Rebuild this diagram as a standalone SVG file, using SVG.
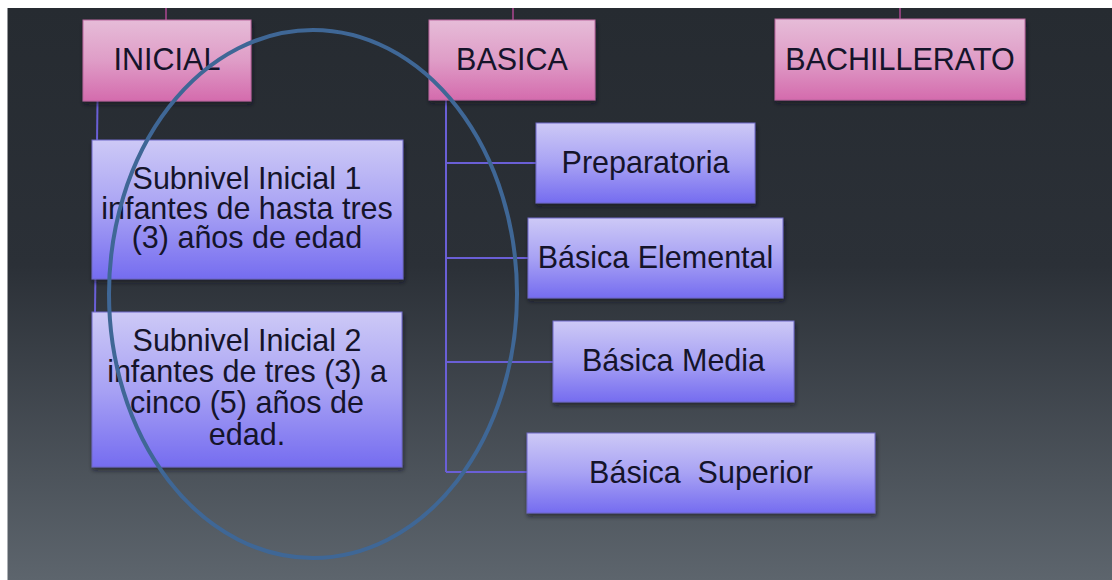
<svg xmlns="http://www.w3.org/2000/svg" width="1112" height="580" viewBox="0 0 1112 580">
  <defs>
    <linearGradient id="bg" x1="0" y1="0" x2="0" y2="1">
      <stop offset="0" stop-color="#262b31"/>
      <stop offset="0.45" stop-color="#2b3037"/>
      <stop offset="1" stop-color="#5d656d"/>
    </linearGradient>
    <linearGradient id="pink" x1="0" y1="0" x2="0" y2="1">
      <stop offset="0" stop-color="#e6bcd8"/>
      <stop offset="0.5" stop-color="#df9dc7"/>
      <stop offset="1" stop-color="#d46bad"/>
    </linearGradient>
    <linearGradient id="violet" x1="0" y1="0" x2="0" y2="1">
      <stop offset="0" stop-color="#cdc9f6"/>
      <stop offset="0.5" stop-color="#a8a2f4"/>
      <stop offset="1" stop-color="#756cf0"/>
    </linearGradient>
    <filter id="sh" x="-10%" y="-10%" width="120%" height="130%">
      <feDropShadow dx="1" dy="3" stdDeviation="2" flood-color="#10131a" flood-opacity="0.6"/>
    </filter>
  </defs>
  <style>
    .top { fill: url(#pink); stroke: #b9669e; stroke-width: 1; filter: url(#sh); }
    .sub { fill: url(#violet); stroke: #6f68c8; stroke-width: 1; filter: url(#sh); }
    .t { font-family: "Liberation Sans", Arial, sans-serif; font-size: 30.5px; fill: #15142a; text-anchor: middle; }
    .conn { stroke: #6a5fd6; stroke-width: 2; fill: none; }
    .up { stroke: #8a3f78; stroke-width: 2; fill: none; }
  </style>

  <rect x="0" y="0" width="1112" height="580" fill="#ffffff"/>
  <rect x="7.5" y="8" width="1104.5" height="572" fill="url(#bg)"/>

  <g id="connectors">
    <line class="up" x1="166" y1="8" x2="166" y2="20"/>
    <line class="up" x1="513" y1="8" x2="513" y2="20"/>
    <line class="up" x1="900" y1="8" x2="900" y2="20"/>
    <line class="conn" x1="97.5" y1="101" x2="95" y2="312"/>
    <line class="conn" x1="446" y1="100" x2="446" y2="472"/>
    <line class="conn" x1="446" y1="163" x2="537" y2="163"/>
    <line class="conn" x1="446" y1="258" x2="529" y2="258"/>
    <line class="conn" x1="446" y1="362" x2="554" y2="362"/>
    <line class="conn" x1="446" y1="472" x2="528" y2="472"/>
  </g>

  <g id="inicial">
    <rect class="top" x="83" y="20" width="168" height="81"/>
    <text class="t" x="167" y="70">INICIAL</text>
  </g>
  <g id="basica">
    <rect class="top" x="429" y="20" width="166" height="80"/>
    <text class="t" x="512" y="70">BASICA</text>
  </g>
  <g id="bachillerato">
    <rect class="top" x="775" y="19" width="250" height="81"/>
    <text class="t" x="900" y="70">BACHILLERATO</text>
  </g>

  <g id="subnivel1">
    <rect class="sub" x="92" y="140" width="311" height="139"/>
    <text class="t" x="247" y="189">Subnivel Inicial 1</text>
    <text class="t" x="247" y="219">infantes de hasta tres</text>
    <text class="t" x="247" y="248">(3) años de edad</text>
  </g>
  <g id="subnivel2">
    <rect class="sub" x="92" y="312" width="310" height="155"/>
    <text class="t" x="247" y="351">Subnivel Inicial 2</text>
    <text class="t" x="247" y="382">infantes de tres (3) a</text>
    <text class="t" x="247" y="413">cinco (5) años de</text>
    <text class="t" x="247" y="445">edad.</text>
  </g>

  <g id="preparatoria">
    <rect class="sub" x="536" y="123" width="219" height="80"/>
    <text class="t" x="645.5" y="173">Preparatoria</text>
  </g>
  <g id="basica-elemental">
    <rect class="sub" x="528" y="218" width="255" height="80"/>
    <text class="t" x="655.5" y="268">Básica Elemental</text>
  </g>
  <g id="basica-media">
    <rect class="sub" x="553" y="321" width="241" height="81"/>
    <text class="t" x="673.5" y="371">Básica Media</text>
  </g>
  <g id="basica-superior">
    <rect class="sub" x="527" y="433" width="348" height="80"/>
    <text class="t" x="701" y="483" xml:space="preserve">Básica  Superior</text>
  </g>

  <g id="highlight">
    <ellipse cx="313" cy="294" rx="204" ry="264" fill="none" stroke="#3f6796" stroke-width="4"/>
  </g>
</svg>
